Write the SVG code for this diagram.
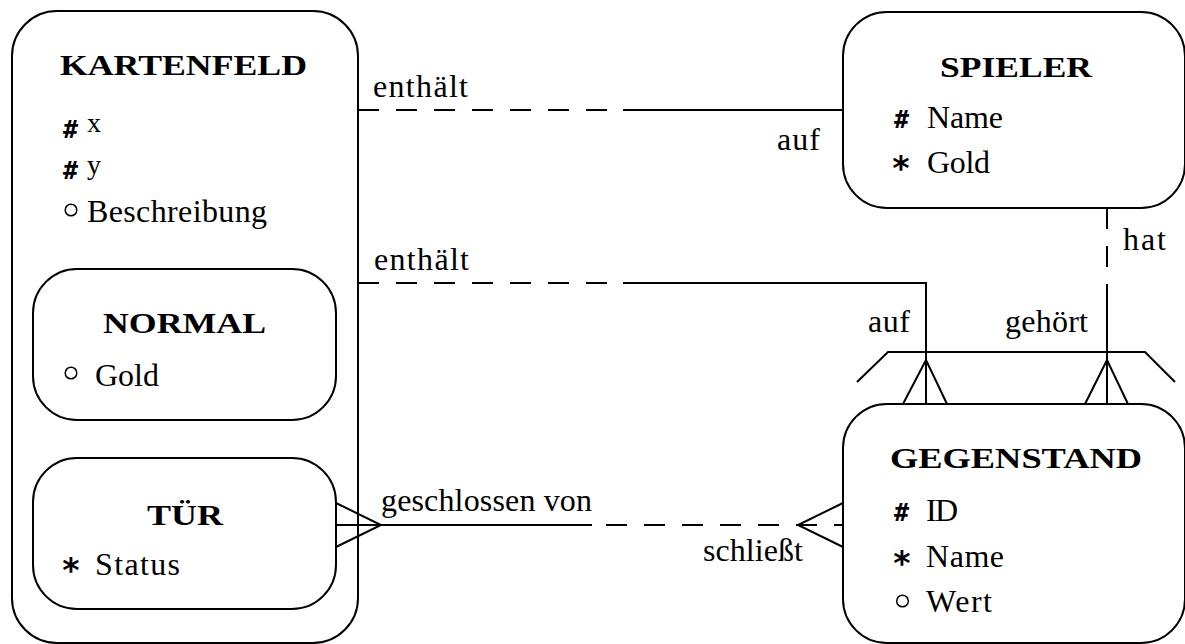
<svg xmlns="http://www.w3.org/2000/svg" width="1185" height="644" viewBox="0 0 1185 644">
<style>
.box{fill:#fff;stroke:#000;stroke-width:2}
.ln{fill:none;stroke:#000;stroke-width:2}
.dash{fill:none;stroke:#000;stroke-width:2;stroke-dasharray:21 17}
.t{font-family:"Liberation Serif","Times New Roman",serif;font-size:32px;fill:#000}
.h{font-family:"Liberation Serif","Times New Roman",serif;font-size:30px;font-weight:bold;fill:#000}
.m{font-family:"DejaVu Sans Mono","Liberation Mono",monospace;font-size:25px;font-weight:bold;fill:#000}
.s{font-family:"DejaVu Sans Mono","Liberation Mono",monospace;font-size:33px;font-weight:bold;fill:#000}
.c{fill:none;stroke:#000;stroke-width:1.5}
</style>
<rect width="1185" height="644" fill="#fff"/>
<g id="kartenfeld">
<rect class="box" x="12" y="11" width="346" height="632" rx="45"/>
<text class="h" x="60" y="75" textLength="247" lengthAdjust="spacingAndGlyphs">KARTENFELD</text>
<text class="m" x="63" y="138">#</text><text class="t" x="87" y="132" style="font-size:28px">x</text>
<text class="m" x="63" y="179">#</text><text class="t" x="87" y="174" style="font-size:28px">y</text>
<circle class="c" cx="71" cy="210" r="5.8"/><text class="t" x="87" y="222" textLength="180">Beschreibung</text>
</g>
<g id="normal">
<rect class="box" x="33" y="269" width="303" height="151" rx="44"/>
<text class="h" x="103" y="333" textLength="163" lengthAdjust="spacingAndGlyphs">NORMAL</text>
<circle class="c" cx="71" cy="373" r="5.8"/><text class="t" x="95" y="386" textLength="64">Gold</text>
</g>
<g id="tuer">
<rect class="box" x="33" y="458" width="303" height="151" rx="44"/>
<text class="h" x="147" y="525" textLength="76" lengthAdjust="spacingAndGlyphs">TÜR</text>
<text class="s" x="61" y="582">*</text><text class="t" x="95" y="575" textLength="85">Status</text>
</g>
<g id="spieler">
<rect class="box" x="843" y="12" width="342" height="196" rx="44"/>
<text class="h" x="940" y="77" textLength="152" lengthAdjust="spacingAndGlyphs">SPIELER</text>
<text class="m" x="894" y="128">#</text><text class="t" x="927" y="128" textLength="76">Name</text>
<text class="s" x="891" y="180">*</text><text class="t" x="927" y="173" textLength="63">Gold</text>
</g>
<g id="gegenstand">
<rect class="box" x="843" y="404" width="342" height="239" rx="44"/>
<text class="h" x="890" y="468" textLength="252" lengthAdjust="spacingAndGlyphs">GEGENSTAND</text>
<text class="m" x="894" y="521">#</text><text class="t" x="926" y="521" textLength="32">ID</text>
<text class="s" x="892" y="575">*</text><text class="t" x="926" y="567" textLength="78">Name</text>
<circle class="c" cx="902.5" cy="601" r="5.8"/><text class="t" x="926" y="612" textLength="66">Wert</text>
</g>
<g id="connectors">
<path class="dash" d="M358 110 H607"/>
<path class="ln" d="M623 110 H843"/>
<path class="dash" d="M358 283 H607"/>
<path class="ln" d="M623 283 H926 V404"/>
<path class="ln" d="M903 404 L926 360 L947 404"/>
<path class="dash" d="M1107 208 V267"/>
<path class="ln" d="M1107 284 V404"/>
<path class="ln" d="M1085 404 L1107 360 L1128 404"/>
<path class="ln" d="M857 382 L888 352 H1145 L1175 382"/>
<path class="ln" d="M336 525 H592"/>
<path class="dash" d="M606 525 H843"/>
<path class="ln" d="M336 503 L381 525 L336 547"/>
<path class="ln" d="M843 503 L798 525 L843 547"/>
<text class="t" x="373" y="97" textLength="95">enthält</text>
<text class="t" x="777" y="150" textLength="43">auf</text>
<text class="t" x="374" y="270" textLength="95">enthält</text>
<text class="t" x="868" y="332" textLength="42">auf</text>
<text class="t" x="1005" y="332" textLength="83">gehört</text>
<text class="t" x="1123" y="250" textLength="43">hat</text>
<text class="t" x="381" y="511" textLength="211">geschlossen von</text>
<text class="t" x="703" y="561" textLength="100">schließt</text>
</g>
</svg>
